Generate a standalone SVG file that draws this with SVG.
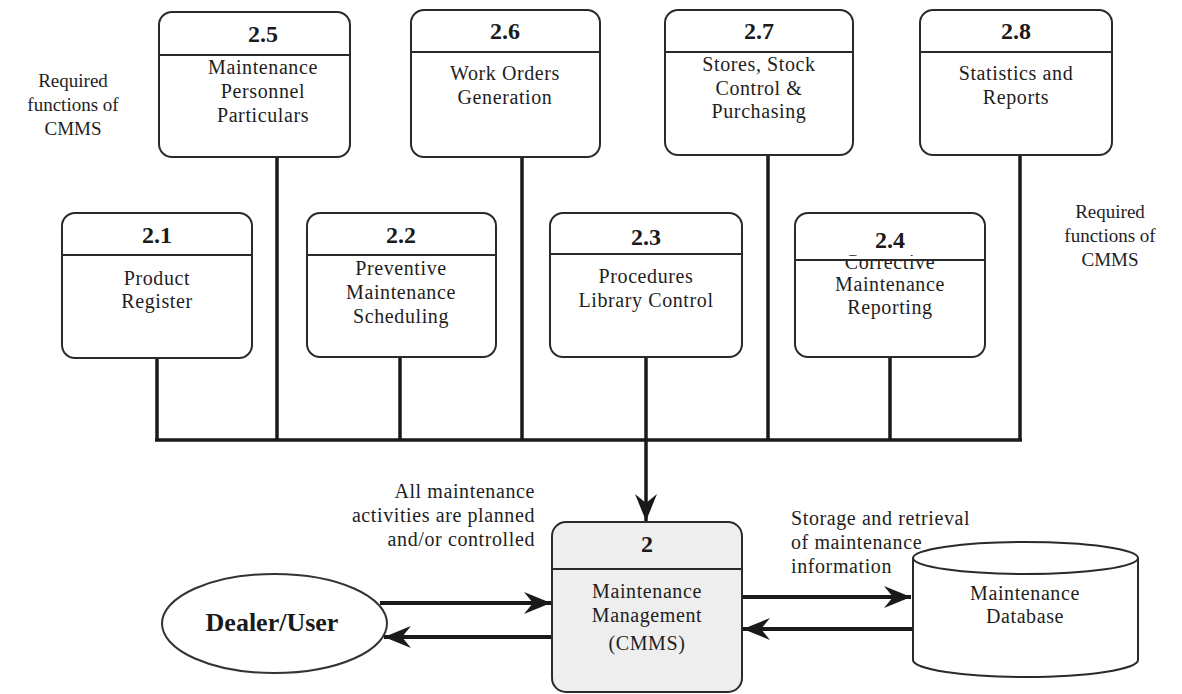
<svg xmlns="http://www.w3.org/2000/svg" width="1182" height="694" viewBox="0 0 1182 694">
  <style>
    .box { fill: #ffffff; stroke: #2a2a2a; stroke-width: 2; }
    .main { fill: #eeeeee; stroke: #2a2a2a; stroke-width: 2; }
    .sep { stroke: #2a2a2a; stroke-width: 1.8; }
    .num { font-family: "Liberation Serif", "Times New Roman", serif; font-weight: bold; font-size: 24px; fill: #1a1a1a; text-anchor: middle; }
    .lbl { font-family: "Liberation Serif", "Times New Roman", serif; font-size: 20px; letter-spacing: 0.6px; fill: #1e1e1e; text-anchor: middle; }
    .note { font-family: "Liberation Serif", "Times New Roman", serif; font-size: 19px; fill: #1e1e1e; text-anchor: middle; }
    .ann { font-family: "Liberation Serif", "Times New Roman", serif; font-size: 20px; letter-spacing: 0.6px; fill: #1e1e1e; }
    .wire { fill: none; stroke: #1a1a1a; stroke-width: 3.5; }
    .flow { fill: none; stroke: #1a1a1a; stroke-width: 4; }
  </style>
  <defs>
    <marker id="head" viewBox="-28 -12 30 24" refX="0" refY="0" markerWidth="30" markerHeight="24" markerUnits="userSpaceOnUse" orient="auto">
      <path d="M0,0 L-27,-11 L-18,0 L-27,11 Z" fill="#1a1a1a"/>
    </marker>
  </defs>

  <rect width="1182" height="694" fill="#ffffff"/>

  <!-- side notes -->
  <g id="note-left">
    <text class="note" x="73" y="87">Required</text>
    <text class="note" x="73" y="111">functions of</text>
    <text class="note" x="73" y="135">CMMS</text>
  </g>
  <g id="note-right">
    <text class="note" x="1110" y="218">Required</text>
    <text class="note" x="1110" y="242">functions of</text>
    <text class="note" x="1110" y="266">CMMS</text>
  </g>

  <!-- connectors -->
  <g id="connectors">
    <path class="wire" d="M157,358 V440 M277,157 V440 M400,357 V440 M522,157 V440 M768,155 V440 M890,357 V440 M1020,155 V440 M155,440 H1022"/>
    <path class="wire" d="M646,357 V521" marker-end="url(#head)"/>
    <path class="flow" d="M380,603 H551" marker-end="url(#head)"/>
    <path class="flow" d="M552,637 H384" marker-end="url(#head)"/>
    <path class="flow" d="M742,597 H911" marker-end="url(#head)"/>
    <path class="flow" d="M912,629 H743" marker-end="url(#head)"/>
  </g>

  <!-- top row -->
  <g id="node-2-5">
    <rect class="box" x="159" y="12" width="191" height="145" rx="13"/>
    <line class="sep" x1="159" y1="55" x2="350" y2="55"/>
    <text class="num" x="263" y="42">2.5</text>
    <text class="lbl" x="263" y="74">Maintenance</text>
    <text class="lbl" x="263" y="98">Personnel</text>
    <text class="lbl" x="263" y="122">Particulars</text>
  </g>
  <g id="node-2-6">
    <rect class="box" x="411" y="10" width="189" height="147" rx="13"/>
    <line class="sep" x1="411" y1="52" x2="600" y2="52"/>
    <text class="num" x="505" y="39">2.6</text>
    <text class="lbl" x="505" y="80">Work Orders</text>
    <text class="lbl" x="505" y="104">Generation</text>
  </g>
  <g id="node-2-7">
    <rect class="box" x="665" y="10" width="188" height="145" rx="13"/>
    <line class="sep" x1="665" y1="52" x2="853" y2="52"/>
    <text class="num" x="759" y="39">2.7</text>
    <text class="lbl" x="759" y="71">Stores, Stock</text>
    <text class="lbl" x="759" y="95">Control &amp;</text>
    <text class="lbl" x="759" y="118">Purchasing</text>
  </g>
  <g id="node-2-8">
    <rect class="box" x="920" y="10" width="192" height="145" rx="13"/>
    <line class="sep" x1="920" y1="52" x2="1112" y2="52"/>
    <text class="num" x="1016" y="39">2.8</text>
    <text class="lbl" x="1016" y="80">Statistics and</text>
    <text class="lbl" x="1016" y="104">Reports</text>
  </g>

  <!-- middle row -->
  <g id="node-2-1">
    <rect class="box" x="62" y="213" width="190" height="145" rx="13"/>
    <line class="sep" x1="62" y1="255" x2="252" y2="255"/>
    <text class="num" x="157" y="243">2.1</text>
    <text class="lbl" x="157" y="285">Product</text>
    <text class="lbl" x="157" y="308">Register</text>
  </g>
  <g id="node-2-2">
    <rect class="box" x="307" y="213" width="189" height="144" rx="13"/>
    <line class="sep" x1="307" y1="255" x2="496" y2="255"/>
    <text class="num" x="401" y="243">2.2</text>
    <text class="lbl" x="401" y="275">Preventive</text>
    <text class="lbl" x="401" y="299">Maintenance</text>
    <text class="lbl" x="401" y="323">Scheduling</text>
  </g>
  <g id="node-2-3">
    <rect class="box" x="550" y="213" width="192" height="144" rx="13"/>
    <line class="sep" x1="550" y1="254" x2="742" y2="254"/>
    <text class="num" x="646" y="245">2.3</text>
    <text class="lbl" x="646" y="283">Procedures</text>
    <text class="lbl" x="646" y="307">Library Control</text>
  </g>
  <g id="node-2-4">
    <rect class="box" x="795" y="213" width="190" height="144" rx="13"/>
    <text class="lbl" x="890" y="269">Corrective</text>
    <rect x="796" y="256" width="188" height="3" fill="#ffffff"/>
    <line class="sep" x1="795" y1="260" x2="985" y2="260"/>
    <text class="num" x="890" y="248">2.4</text>
    <text class="lbl" x="890" y="291">Maintenance</text>
    <text class="lbl" x="890" y="314">Reporting</text>
  </g>

  <!-- annotations -->
  <g id="note-control">
    <text class="ann" x="535" y="498" text-anchor="end">All maintenance</text>
    <text class="ann" x="535" y="522" text-anchor="end">activities are planned</text>
    <text class="ann" x="535" y="546" text-anchor="end">and/or controlled</text>
  </g>
  <g id="note-storage">
    <text class="ann" x="791" y="525">Storage and retrieval</text>
    <text class="ann" x="791" y="549">of maintenance</text>
    <text class="ann" x="791" y="573">information</text>
  </g>

  <!-- central process -->
  <g id="node-2">
    <rect class="main" x="552" y="522" width="190" height="170" rx="14"/>
    <line class="sep" x1="552" y1="569" x2="742" y2="569"/>
    <text class="num" x="647" y="552">2</text>
    <text class="lbl" x="647" y="598">Maintenance</text>
    <text class="lbl" x="647" y="622">Management</text>
    <text class="lbl" x="647" y="650">(CMMS)</text>
  </g>

  <!-- external entity -->
  <g id="node-dealer">
    <ellipse cx="274.5" cy="623.5" rx="112.5" ry="49.5" fill="#ffffff" stroke="#333333" stroke-width="2"/>
    <text x="272" y="631" font-family="Liberation Serif, Times New Roman, serif" font-weight="bold" font-size="26" fill="#1a1a1a" text-anchor="middle">Dealer/User</text>
  </g>

  <!-- data store -->
  <g id="node-database">
    <path d="M913,558 V660 A112.5,17 0 0 0 1138,660 V558" fill="#ffffff" stroke="#2a2a2a" stroke-width="2"/>
    <ellipse cx="1025.5" cy="558" rx="112.5" ry="16" fill="#ffffff" stroke="#2a2a2a" stroke-width="2"/>
    <text class="lbl" x="1025" y="600">Maintenance</text>
    <text class="lbl" x="1025" y="623">Database</text>
  </g>
</svg>
